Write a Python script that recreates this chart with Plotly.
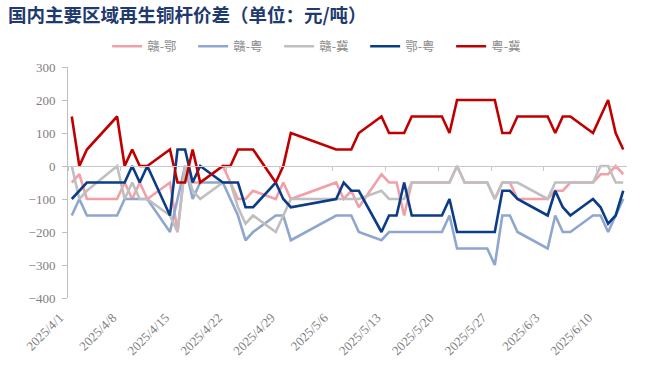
import plotly.graph_objects as go

dates = ['2025-04-01','2025-04-02','2025-04-03','2025-04-07','2025-04-08','2025-04-09','2025-04-10','2025-04-11',
         '2025-04-14','2025-04-15','2025-04-16','2025-04-17','2025-04-18','2025-04-21','2025-04-22','2025-04-23',
         '2025-04-24','2025-04-25','2025-04-28','2025-04-29','2025-04-30',
         '2025-05-06','2025-05-07','2025-05-08','2025-05-09','2025-05-12','2025-05-13','2025-05-14','2025-05-15',
         '2025-05-16','2025-05-19','2025-05-20','2025-05-21','2025-05-22','2025-05-23','2025-05-26','2025-05-27',
         '2025-05-28','2025-05-29','2025-05-30',
         '2025-06-03','2025-06-04','2025-06-05','2025-06-06','2025-06-09','2025-06-10','2025-06-11','2025-06-12','2025-06-13']

gan_e = [-50,-25,-100,-100,-50,-100,-50,-100,-50,-200,0,-50,-50,0,-50,-100,-100,-75,-100,-50,-100,
         -50,-100,-75,-125,-25,-50,-50,-150,-50,-50,-50,-50,0,-50,-50,-100,-50,-50,-100,
         -100,-75,-75,-50,-50,-25,-25,0,-25]
gan_yue = [-150,-100,-150,-150,-100,-100,-100,-100,-200,-100,0,-100,-50,-50,-100,-150,-225,-200,-150,-150,-225,
           -150,-150,-150,-200,-225,-200,-200,-200,-200,-200,-200,-150,-250,-250,-250,-300,-150,-150,-200,
           -250,-150,-200,-200,-150,-150,-200,-150,-100]
gan_ji = [0,-100,-75,0,-100,-50,-100,-100,-150,-200,0,-75,-100,-50,-50,-125,-175,-150,-200,-150,-100,
          -100,-100,-100,-100,-75,-100,-100,-100,-50,-50,-50,-50,0,-50,-50,-100,-50,-50,-50,
          -100,-50,-50,-50,-50,0,0,-50,-50]
e_yue = [-100,-75,-50,-50,-50,0,-50,0,-150,50,50,-50,0,-50,-50,-50,-125,-125,-50,-100,-125,
         -100,-50,-75,-75,-200,-150,-150,-50,-150,-150,-150,-100,-200,-200,-200,-200,-75,-75,-100,
         -150,-75,-125,-150,-100,-125,-175,-150,-75]
yue_ji = [150,0,50,150,0,50,0,0,50,-50,-50,50,-50,0,0,50,50,50,-50,0,100,
          50,50,50,100,150,100,100,100,150,150,150,100,200,200,200,200,100,100,150,
          150,100,150,150,100,150,200,100,50]

series_names = ['赣-鄂', '赣-粤', '赣-冀', '鄂-粤', '粤-冀']
series_values = [gan_e, gan_yue, gan_ji, e_yue, yue_ji]
series_colors = ['#F2A0A8', '#8FA7CE', '#BFBFBF', '#0B3C87', '#C00000']

tick_dates = ['2025-04-01','2025-04-08','2025-04-15','2025-04-22','2025-04-29','2025-05-06',
              '2025-05-13','2025-05-20','2025-05-27','2025-06-03','2025-06-10']
tick_labels = ['2025/4/1','2025/4/8','2025/4/15','2025/4/22','2025/4/29','2025/5/6',
               '2025/5/13','2025/5/20','2025/5/27','2025/6/3','2025/6/10']
y_ticks = [300, 200, 100, 0, -100, -200, -300, -400]

xrange = ['2025-03-31 12:00', '2025-06-13 12:00']

fig = go.Figure()
for name, vals, col in zip(series_names, series_values, series_colors):
    fig.add_trace(go.Scatter(x=dates, y=vals, name=name, mode='lines',
                             line=dict(color=col, width=2.6)))

fig.add_trace(go.Scatter(x=[dates[0]], y=[None], xaxis='x2', yaxis='y',
                         showlegend=False, hoverinfo='skip', mode='lines'))

serif = 'Liberation Serif, Times New Roman, serif'
cjk = 'Noto Sans CJK SC, sans-serif'

fig.update_layout(
    width=660, height=374,
    margin=dict(l=68, r=33, t=67, b=76, autoexpand=False),
    paper_bgcolor='white', plot_bgcolor='white',
    title=dict(text='国内主要区域再生铜杆价差（单位：元/吨）', xref='container', yref='container',
               x=0.012, xanchor='left', y=0.958, yanchor='middle',
               font=dict(family=cjk, size=18.5, color='#1F3A6E', weight='bold')),
    legend=dict(orientation='h', x=0.07, xanchor='left', y=1.088, yanchor='middle',
                font=dict(family=cjk, size=12.5, color='#8C8C8C'),
                entrywidth=41, entrywidthmode='pixels', bgcolor='rgba(0,0,0,0)', itemwidth=30),
    xaxis=dict(type='date', range=xrange, tickmode='array', tickvals=tick_dates, ticktext=tick_labels,
               tickangle=-45, showline=False, showgrid=False, zeroline=False,
               ticks='outside', ticklen=6, tickcolor='rgba(0,0,0,0)', ticklabelshift=-12,
               tickfont=dict(family=serif, size=13, color='#808080')),
    xaxis2=dict(type='date', range=xrange, overlaying='x', anchor='free', position=400/700,
                tickmode='linear', tick0='2025-03-31 12:00', dtick=7*24*3600*1000,
                ticks='outside', ticklen=4, tickcolor='#C8C8C8', showticklabels=False,
                showline=True, linecolor='#C8C8C8', linewidth=1.3, showgrid=False, zeroline=False),
    yaxis=dict(range=[-400, 300], tickmode='array', tickvals=y_ticks,
               showline=True, linecolor='#BFBFBF', linewidth=1, ticks='outside', ticklen=5,
               tickcolor='#BFBFBF', showgrid=False, zeroline=False, ticklabelstandoff=4,
               tickfont=dict(family=serif, size=13, color='#808080')),
    showlegend=True,
)

fig.write_html('out.html', config={'displayModeBar': False},
               post_script="document.body.style.margin='0';")
